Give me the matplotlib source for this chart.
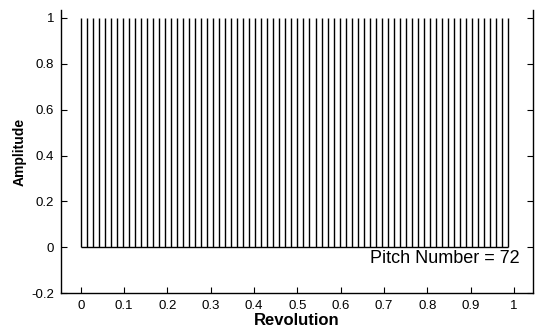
import numpy as np
import matplotlib.pyplot as plt

plt.rcParams['font.family'] = ['Liberation Sans', 'DejaVu Sans']

# 72 pitches per revolution, unit amplitude each
pitch_number = 72
positions = np.arange(pitch_number) / pitch_number
amplitudes = np.ones(pitch_number)
x_ticks = [0, 0.1, 0.2, 0.3, 0.4, 0.5, 0.6, 0.7, 0.8, 0.9, 1]
x_labels = ['0', '0.1', '0.2', '0.3', '0.4', '0.5', '0.6', '0.7', '0.8', '0.9', '1']
y_ticks = [-0.2, 0, 0.2, 0.4, 0.6, 0.8, 1]
y_labels = ['-0.2', '0', '0.2', '0.4', '0.6', '0.8', '1']

fig = plt.figure(figsize=(5.44, 3.29), dpi=100)
ax = fig.add_axes([0.112, 0.109, 0.868, 0.861])

ax.vlines(positions, 0, amplitudes, color='black', linewidth=1.0)
ax.hlines(0, positions[0], positions[-1], color='black', linewidth=1.0)

ax.set_xlim(-0.046, 1.044)
ax.set_ylim(-0.2, 1.035)
ax.set_xticks(x_ticks)
ax.set_xticklabels(x_labels)
ax.set_yticks(y_ticks)
ax.set_yticklabels(y_labels)
ax.tick_params(direction='in', length=4, labelsize=9.5, right=True, pad=5)
ax.spines['top'].set_visible(False)
for s in ['left', 'right', 'bottom']:
    ax.spines[s].set_linewidth(1.0)

ax.set_xlabel('Revolution', fontsize=12, fontweight='bold', labelpad=1)
ax.set_ylabel('Amplitude', fontsize=10, fontweight='bold', labelpad=3)

ax.text(1.014, -0.05, 'Pitch Number = 72', fontsize=13, ha='right', va='center')

fig.savefig('out.png', dpi=100)
